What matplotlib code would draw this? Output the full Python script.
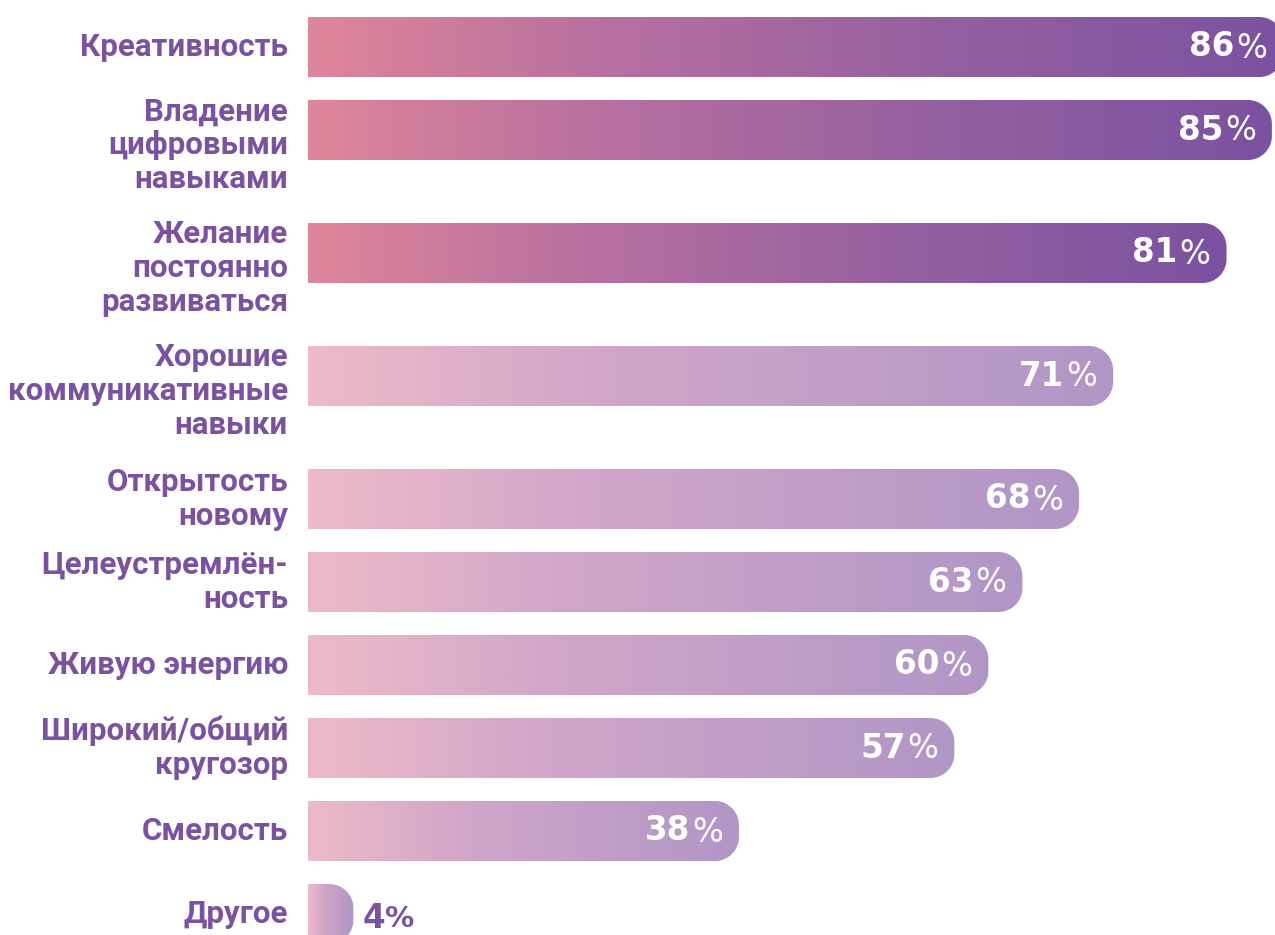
import numpy as np
import matplotlib.pyplot as plt
from matplotlib.path import Path
from matplotlib.patches import PathPatch
from matplotlib.colors import LinearSegmentedColormap

# данные
labels = ["Креативность", "Владение\nцифровыми\nнавыками", "Желание\nпостоянно\nразвиваться",
          "Хорошие\nкоммуникативные\nнавыки", "Открытость\nновому", "Целеустремлён-\nность",
          "Живую энергию", "Широкий/общий\nкругозор", "Смелость", "Другое"]
values = [86, 85, 81, 71, 68, 63, 60, 57, 38, 4]
n_top = 3  # первые три выделены более яркой заливкой

purple = "#7B52A0"
cmap_top = LinearSegmentedColormap.from_list(
    "top", [(0, "#DE869A"), (0.3, "#B8709F"), (0.65, "#9560A0"), (1, "#7B52A0")])
cmap_low = LinearSegmentedColormap.from_list(
    "low", [(0, "#EDBAC8"), (0.36, "#D1A6C8"), (1, "#B096C6")])

W, H = 1275, 935
x_left = 308          # левый край полос, px
px_per_pct = 11.34    # масштаб
bar_h = 60
radius = 24

fig = plt.figure(figsize=(W / 100, H / 100), dpi=100)
ax = fig.add_axes([0, 0, 1, 1])
ax.axis("off")
ax.set_xlim(-x_left / px_per_pct, (W - x_left) / px_per_pct)
ax.set_ylim(H, 0)
renderer = fig.canvas.get_renderer()

font = ["Roboto", "DejaVu Sans"]
numfont = ["DejaVu Sans"]

# вертикальная раскладка: шаг зависит от числа строк в подписи
tops = []
y = 17
for lab in labels:
    tops.append(y)
    y += 83 + (40 if lab.count("\n") >= 2 else 0)


def bar_path(x1, top, h, rx, ry):
    rx = min(rx, x1)
    pts = [(0, top), (x1 - rx, top)]
    t = np.linspace(-np.pi / 2, 0, 20)
    pts += list(zip(x1 - rx + rx * np.cos(t), top + ry + ry * np.sin(t)))
    t = np.linspace(0, np.pi / 2, 20)
    pts += list(zip(x1 - rx + rx * np.cos(t), top + h - ry + ry * np.sin(t)))
    pts += [(0, top + h), (0, top)]
    return Path(pts, closed=True)


def value_label(v, yc, inside):
    # цифры жирным, знак % тонким
    kw = dict(textcoords="offset pixels", va="center", annotation_clip=False,
              family=numfont)
    if inside:
        pct = ax.annotate("%", xy=(v, yc), xytext=(-16, -1), ha="right",
                          color="white", fontweight="normal", fontsize=23.5, **kw)
        w = pct.get_window_extent(renderer).width
        ax.annotate(str(v), xy=(v, yc), xytext=(-16 - w - 2, 0), ha="right",
                    color="white", fontweight="bold", fontsize=23.5, **kw)
    else:
        num = ax.annotate(str(v), xy=(v, yc), xytext=(9, -4), ha="left",
                          color=purple, fontweight="bold", fontsize=23.5, **kw)
        w = num.get_window_extent(renderer).width
        ax.annotate("%", xy=(v, yc), xytext=(9 + w, -5), ha="left",
                    color=purple, fontweight="bold", fontsize=21, **kw)


grad = np.linspace(0, 1, 256).reshape(1, -1)
for i, (lab, v, top) in enumerate(zip(labels, values, tops)):
    cmap = cmap_top if i < n_top else cmap_low
    path = bar_path(v, top, bar_h, radius / px_per_pct, radius)
    patch = PathPatch(path, fc="none", ec="none", transform=ax.transData)
    ax.add_patch(patch)
    im = ax.imshow(grad, cmap=cmap, extent=(0, v, top + bar_h, top),
                   aspect="auto", interpolation="bilinear")
    im.set_clip_path(patch)

    yc = top + bar_h / 2
    nlines = lab.count("\n") + 1
    block = (nlines - 1) * 33 + 22
    ty = max(yc, top + 1 + block / 2)
    ax.annotate(lab, xy=(0, ty), xytext=(-20, 0), textcoords="offset pixels",
                ha="right", va="center", ma="right", color=purple,
                fontsize=22.5, fontweight="bold", family=font, linespacing=1.16)

    value_label(v, yc, v >= 10)

ax.set_xlim(-x_left / px_per_pct, (W - x_left) / px_per_pct)
ax.set_ylim(H, 0)

fig.savefig("out.png", dpi=100)
